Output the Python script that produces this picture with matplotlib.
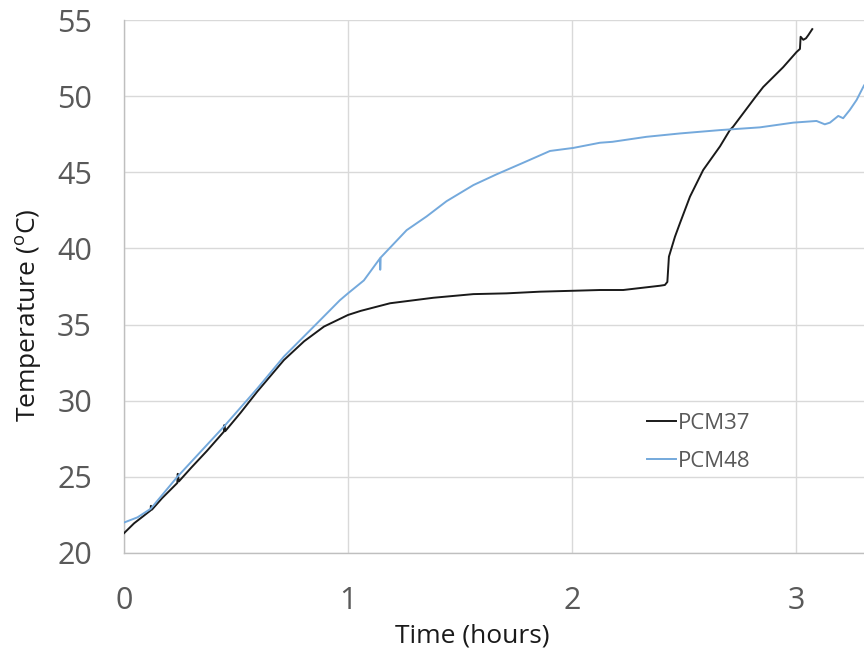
import matplotlib
matplotlib.use("Agg")
import matplotlib.pyplot as plt

plt.rcParams['font.family'] = ['Open Sans', 'DejaVu Sans']
plt.rcParams['mathtext.fontset'] = 'custom'
plt.rcParams['mathtext.rm'] = 'Open Sans'

# PCM37 series (time in hours, temperature in °C)
pcm37_t = [0.0, 0.045, 0.08, 0.119, 0.12, 0.125, 0.17, 0.238, 0.24, 0.245, 0.30, 0.37,
           0.446, 0.448, 0.452, 0.52, 0.595, 0.714, 0.804, 0.893, 1.0, 1.057, 1.188,
           1.381, 1.56, 1.708, 1.857, 2.006, 2.125, 2.229, 2.393, 2.415, 2.426, 2.433,
           2.46, 2.482, 2.527, 2.586, 2.661, 2.705, 2.72, 2.817, 2.854, 2.943, 3.003,
           3.018, 3.021, 3.033, 3.045, 3.055, 3.073]
pcm37_y = [21.3, 21.95, 22.35, 22.8, 23.1, 22.85, 23.6, 24.6, 25.2, 24.7, 25.6, 26.7,
           27.97, 28.4, 28.0, 29.2, 30.6, 32.67, 33.9, 34.87, 35.63, 35.9, 36.4,
           36.76, 37.0, 37.05, 37.16, 37.22, 37.27, 37.27, 37.55, 37.6, 37.8, 39.46,
           40.77, 41.65, 43.4, 45.15, 46.7, 47.77, 48.0, 49.9, 50.6, 51.9, 52.9,
           53.1, 53.9, 53.7, 53.8, 54.0, 54.4]

# PCM48 series
pcm48_t = [0.0, 0.06, 0.119, 0.238, 0.446, 0.595, 0.714, 0.863, 0.964, 1.0, 1.071,
           1.143, 1.144, 1.146, 1.262, 1.351, 1.44, 1.56, 1.664, 1.783, 1.902, 2.006,
           2.125, 2.18, 2.333, 2.482, 2.661, 2.839, 2.988, 3.092, 3.129, 3.152, 3.189,
           3.211, 3.241, 3.271, 3.304]
pcm48_y = [22.0, 22.34, 22.9, 25.0, 28.3, 30.8, 32.9, 35.1, 36.6, 37.05, 37.9,
           39.35, 38.6, 39.4, 41.2, 42.1, 43.1, 44.16, 44.87, 45.63, 46.4, 46.6,
           46.94, 47.0, 47.33, 47.55, 47.77, 47.95, 48.26, 48.37, 48.15, 48.26, 48.7,
           48.55, 49.1, 49.75, 50.7]

xticks = [0, 1, 2, 3]
yticks = [20, 25, 30, 35, 40, 45, 50, 55]

fig = plt.figure(figsize=(8.64, 6.53), dpi=100)
ax = fig.add_axes([124/864, 1 - 553/653, 1 - 124/864, (553 - 20)/653])

ax.plot(pcm37_t, pcm37_y, color='#1a1a1a', lw=1.4, label='PCM37', zorder=3)
ax.plot(pcm48_t, pcm48_y, color='#74a9dc', lw=1.4, label='PCM48', zorder=3)

ax.set_xlim(0, 3.304)
ax.set_ylim(20, 55)
ax.set_xticks(xticks)
ax.set_yticks(yticks)
ax.grid(True, color='#d9d9d9', lw=1.0, zorder=0)
ax.set_axisbelow(True)
for s in ['top', 'right']:
    ax.spines[s].set_visible(False)
for s in ['left', 'bottom']:
    ax.spines[s].set_color('#bfbfbf')
    ax.spines[s].set_linewidth(1.0)

ax.tick_params(axis='both', length=0, labelsize=22, labelcolor='#595959')
ax.tick_params(axis='y', pad=23)
ax.tick_params(axis='x', pad=24)

ax.set_xlabel('Time (hours)', fontsize=19, color='#1a1a1a')
ax.set_ylabel('Temperature ($^{\\mathrm{o}}$C)', fontsize=19, color='#1a1a1a')
ax.xaxis.set_label_coords(0.47, -0.1332)
ax.yaxis.set_label_coords(-0.108, 0.4465)

leg = ax.legend(loc='upper left', bbox_to_anchor=(0.68, 0.30), frameon=False,
                fontsize=16, labelcolor='#595959', handlelength=1.3,
                handletextpad=0.1, labelspacing=0.75)

fig.savefig('out.png', dpi=100)
